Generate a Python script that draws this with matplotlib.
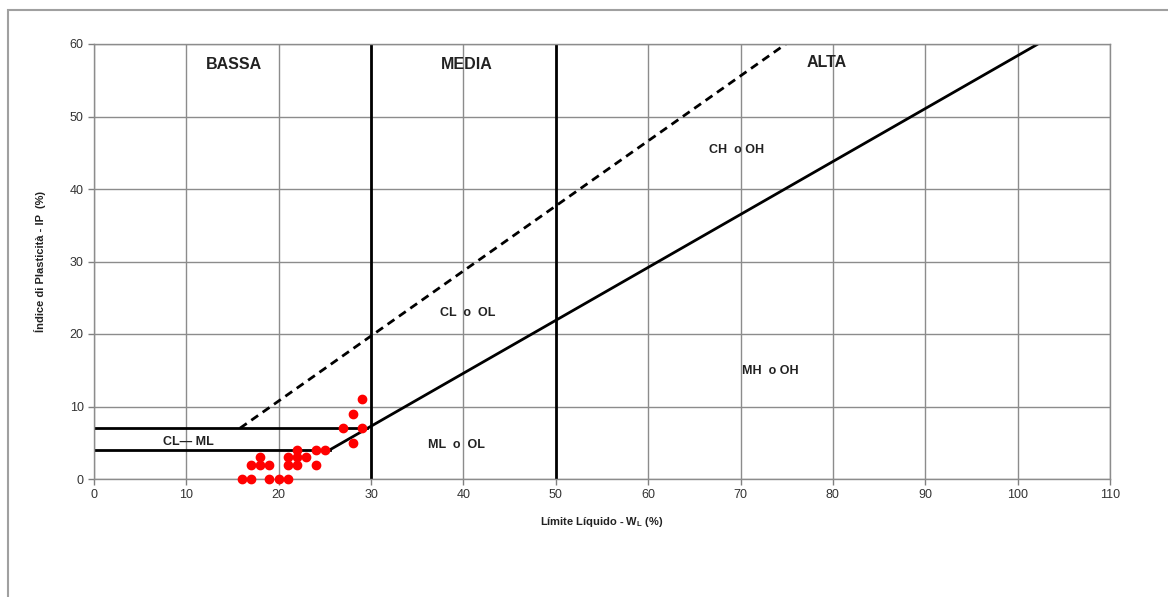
import matplotlib
matplotlib.use("Agg")
import matplotlib.pyplot as plt
from matplotlib.patches import Rectangle

plt.rcParams['font.family'] = ['Liberation Sans', 'DejaVu Sans']

# Data
ll_points = [29, 28, 27, 29, 28, 22, 24, 25, 21, 22, 23, 18, 17, 18, 19, 21, 22, 24, 16, 17, 19, 20, 21]
ip_points = [11, 9, 7, 7, 5, 4, 4, 4, 3, 3, 3, 3, 2, 2, 2, 2, 2, 2, 0, 0, 0, 0, 0]

# A-line (IP = 0.73*(LL-20)) and U-line (IP = 0.9*(LL-8)) end points
a_line_x = [25.5, 102.2]
a_line_y = [4, 60]
u_line_x = [15.8, 74.9]
u_line_y = [7, 60]
cl_ml_low_x = [0, 25.5]
cl_ml_low_y = [4, 4]
cl_ml_high_x = [0, 29.6]
cl_ml_high_y = [7, 7]
vlines_x = [30, 50]

zone_labels = ["BASSA", "MEDIA", "ALTA"]
zone_x = [15.2, 40.4, 79.3]
zone_y = [57.2, 57.2, 57.4]

class_labels = ["CH  o OH", "CL  o  OL", "MH  o OH", "ML  o  OL", "CL\u2014 ML"]
class_x = [69.6, 40.5, 73.2, 39.2, 10.2]
class_y = [45.4, 22.9, 14.9, 4.7, 5.1]

xticks = list(range(0, 111, 10))
yticks = list(range(0, 61, 10))

fig = plt.figure(figsize=(11.68, 5.97), dpi=100)
fig.patches.append(Rectangle((8/1168, -0.1), 1.2, 1 - 10/597 + 0.1, transform=fig.transFigure,
                             fill=False, edgecolor='#a0a0a0', linewidth=1.5, zorder=0))

ax = fig.add_axes([94/1168, 1 - 479/597, (1110 - 94)/1168, (479 - 44)/597])
ax.set_xlim(0, 110)
ax.set_ylim(0, 60)
ax.set_xticks(xticks)
ax.set_yticks(yticks)
ax.grid(True, color='#8c8c8c', linewidth=1.0)
ax.set_axisbelow(True)
for s in ax.spines.values():
    s.set_color('#8c8c8c')
    s.set_linewidth(1.0)
ax.tick_params(axis='both', colors='#808080', labelcolor='#333333', labelsize=9, length=4, width=1)

lw = 2.0
ax.plot(a_line_x, a_line_y, color='black', linewidth=lw, solid_capstyle='butt')
ax.plot(u_line_x, u_line_y, color='black', linewidth=lw, linestyle=(0, (3, 2)))
ax.plot(cl_ml_low_x, cl_ml_low_y, color='black', linewidth=lw)
ax.plot(cl_ml_high_x, cl_ml_high_y, color='black', linewidth=lw)
for vx in vlines_x:
    ax.plot([vx, vx], [0, 60], color='black', linewidth=lw)

ax.scatter(ll_points, ip_points, s=36, color='#ff0000', zorder=5, clip_on=False)

for t, x, y in zip(zone_labels, zone_x, zone_y):
    ax.text(x, y, t, fontsize=11.5, fontweight='bold', color='#222222', ha='center', va='center')
for t, x, y in zip(class_labels, class_x, class_y):
    ax.text(x, y, t, fontsize=9, fontweight='bold', color='#222222', ha='center', va='center')

ax.set_xlabel("Límite Líquido - W$_\\mathregular{L}$ (%)", fontsize=8, fontweight='bold', color='#222222', labelpad=10)
ax.set_ylabel("Índice di Plasticità - IP  (%)", fontsize=8, fontweight='bold', color='#222222', labelpad=17)

fig.savefig("out.png", dpi=100)
